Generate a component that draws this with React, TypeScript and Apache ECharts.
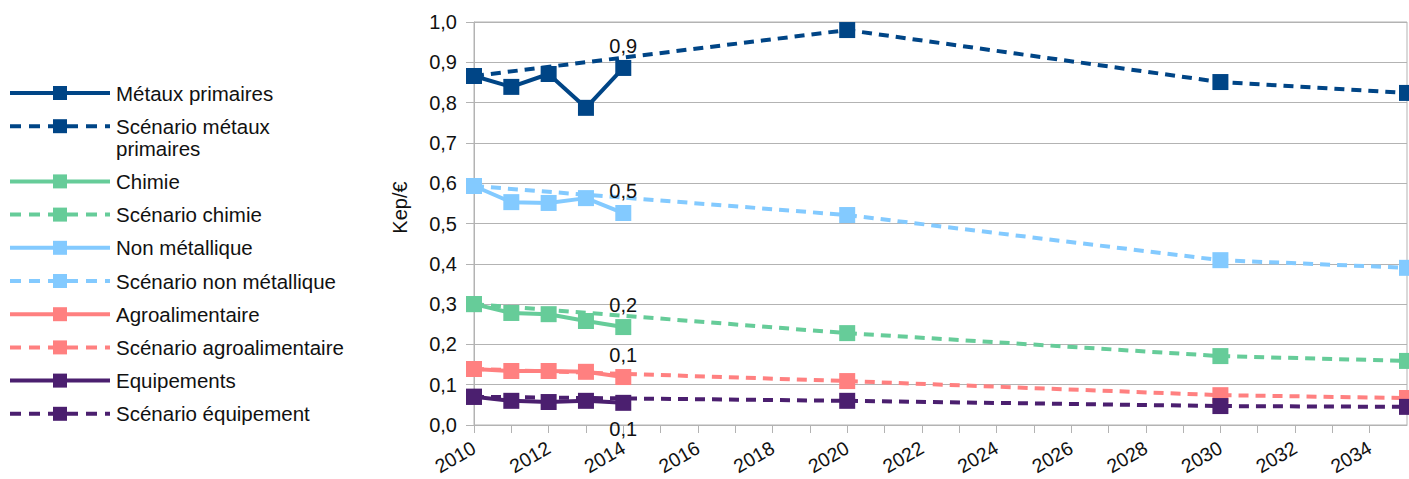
import React, { useEffect, useRef } from "react";
import * as echarts from "echarts";

const years = [2010, 2011, 2012, 2013, 2014];
const scenarioYears = [2010, 2020, 2030, 2035];

const metaux = [0.866, 0.839, 0.871, 0.787, 0.886];
const scenMetaux = [0.866, 0.98, 0.851, 0.824];
const chimie = [0.3, 0.278, 0.275, 0.258, 0.243];
const scenChimie = [0.3, 0.228, 0.171, 0.159];
const nonMet = [0.593, 0.553, 0.551, 0.563, 0.526];
const scenNonMet = [0.593, 0.521, 0.409, 0.39];
const agro = [0.139, 0.134, 0.134, 0.132, 0.119];
const scenAgro = [0.139, 0.109, 0.074, 0.067];
const equip = [0.07, 0.06, 0.057, 0.06, 0.055];
const scenEquip = [0.07, 0.06, 0.047, 0.045];

const names = [
  "Métaux primaires",
  "Scénario métaux primaires",
  "Chimie",
  "Scénario chimie",
  "Non métallique",
  "Scénario non métallique",
  "Agroalimentaire",
  "Scénario agroalimentaire",
  "Equipements",
  "Scénario équipement",
];

const colors = ["#004586", "#66cc99", "#83caff", "#ff8080", "#4b1f6f"];

const FONT = "Liberation Sans";
const fmt = (v: number) => v.toFixed(1).replace(".", ",");

export default function App() {
  const ref = useRef<HTMLDivElement>(null);
  useEffect(() => {
    if (!ref.current) return;
    const chart = echarts.init(ref.current, undefined, { renderer: "svg" });
    const solids = [metaux, chimie, nonMet, agro, equip];
    const scens = [scenMetaux, scenChimie, scenNonMet, scenAgro, scenEquip];
    const series: any[] = [];
    solids.forEach((arr, i) => {
      const bottom = i === 4;
      series.push({
        name: names[i * 2],
        type: "line",
        z: 4,
        data: arr.map((v, k) => [years[k], v]),
        symbol: "rect",
        symbolSize: 16,
        color: colors[i],
        lineStyle: { width: 4, color: colors[i] },
        itemStyle: { color: colors[i] },
        label: {
          show: true,
          position: bottom ? "bottom" : "top",
          distance: bottom ? 8 : 4,
          fontFamily: FONT,
          fontSize: 20,
          color: "#111",
          formatter: (p: any) => (p.dataIndex === arr.length - 1 ? fmt(p.value[1]) : ""),
        },
      });
      series.push({
        name: names[i * 2 + 1],
        type: "line",
        z: 3,
        data: scens[i].map((v, k) => [scenarioYears[k], v]),
        symbol: "rect",
        symbolSize: 16,
        color: colors[i],
        lineStyle: { width: 4, color: colors[i], type: [10, 7] },
        itemStyle: { color: colors[i] },
      });
    });

    // custom legend
    const graphic: any[] = [];
    names.forEach((n, i) => {
      const y = 93 + 33.2 * i + (i >= 2 ? 22 : 0);
      const c = colors[Math.floor(i / 2)];
      const dashed = i % 2 === 1;
      graphic.push({
        type: "line",
        shape: { x1: 10, y1: y, x2: 110, y2: y },
        style: { stroke: c, lineWidth: 4, lineDash: dashed ? [11, 8] : null },
      });
      graphic.push({
        type: "rect",
        shape: { x: 53, y: y - 7, width: 14, height: 14 },
        style: { fill: c },
      });
      const two = n === "Scénario métaux primaires";
      graphic.push({
        type: "text",
        x: 116,
        y: two ? y + 11 : y,
        style: {
          text: two ? "Scénario métaux\nprimaires" : n,
          fontFamily: FONT,
          fontSize: 20.5,
          lineHeight: 22,
          fill: "#111",
          verticalAlign: "middle",
          align: "left",
        },
      });
    });

    chart.setOption({
      animation: false,
      textStyle: { fontFamily: FONT },
      graphic,
      grid: {
        left: 474,
        right: 2,
        top: 22,
        bottom: 54,
        show: true,
        borderColor: "#b3b3b3",
        borderWidth: 1,
      },
      xAxis: {
        type: "value",
        min: 2010,
        max: 2035,
        interval: 1,
        splitLine: { show: false },
        axisLine: { lineStyle: { color: "#b3b3b3" } },
        axisTick: { show: true, length: 8, lineStyle: { color: "#b3b3b3" } },
        axisLabel: {
          rotate: 30,
          fontFamily: FONT,
          fontSize: 19.5,
          color: "#111",
          margin: 21,
          showMaxLabel: false,
          formatter: (v: number) => (v % 2 === 0 ? String(v) : ""),
        },
      },
      yAxis: {
        type: "value",
        min: 0,
        max: 1,
        interval: 0.1,
        name: "Kep/€",
        nameLocation: "middle",
        nameRotate: 90,
        nameGap: 64,
        nameTextStyle: { fontFamily: FONT, fontSize: 20, color: "#111", padding: [0, 0, 0, 32] },
        axisLine: { show: true, lineStyle: { color: "#b3b3b3" } },
        axisTick: { show: true, length: 8, lineStyle: { color: "#b3b3b3" } },
        splitLine: { lineStyle: { color: "#b3b3b3" } },
        axisLabel: {
          fontFamily: FONT,
          fontSize: 20,
          color: "#111",
          margin: 17,
          formatter: (v: number) => fmt(v),
        },
      },
      series,
    });
    return () => chart.dispose();
  }, []);
  return (
    <div
      ref={ref}
      style={{ position: "fixed", left: 0, top: 0, width: 1409, height: 479, background: "#fff" }}
    />
  );
}
